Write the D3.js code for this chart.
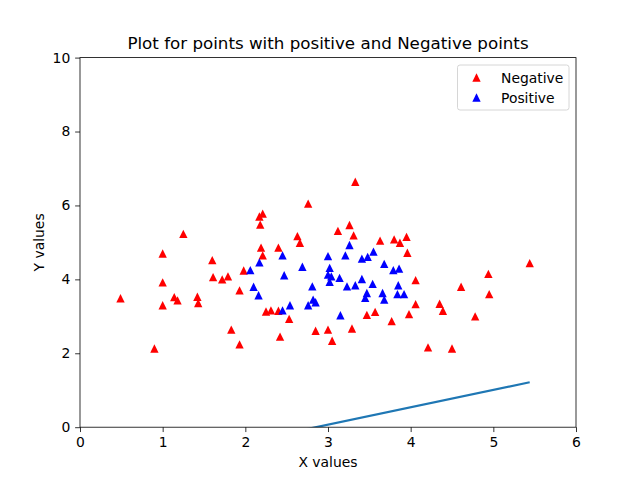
<!DOCTYPE html>
<html><head><meta charset="utf-8">
<script src="https://cdn.jsdelivr.net/npm/d3@7"></script>
<style>body{margin:0;background:#fff}svg{display:block}text{font-family:"DejaVu Sans",sans-serif}</style>
</head><body>
<svg id="c" width="640" height="480"></svg>
<script>
const negX=[0.49,0.90,1.00,1.00,1.00,1.14,1.18,1.25,1.42,1.43,1.60,1.61,1.72,1.79,1.83,1.93,1.93,1.98,
3.33,2.76,2.17,2.21,2.18,3.26,3.12,3.31,2.63,2.66,2.19,2.40,2.21,2.25,2.31,2.40,2.53,2.42,2.85,3.00,3.05,3.29,3.47,
3.63,3.80,3.87,3.95,3.96,4.06,4.06,3.98,3.77,3.57,4.35,4.39,4.61,4.94,4.95,4.78,4.21,4.50,5.44];
const negY=[3.49,2.13,4.70,3.92,3.30,3.52,3.43,5.23,3.53,3.36,4.52,4.06,4.00,4.08,2.64,3.70,2.24,4.24,
6.64,6.05,5.70,5.78,5.48,5.47,5.31,5.19,5.17,4.99,4.86,4.86,4.65,3.13,3.16,3.15,2.93,2.45,2.61,2.64,2.34,2.67,3.04,
5.05,5.08,4.99,5.15,4.72,3.98,3.33,3.06,2.87,3.12,3.34,3.15,3.80,4.15,3.60,3.00,2.16,2.13,4.44];
const posX=[2.06,2.17,2.45,2.47,2.69,2.10,2.16,2.54,2.45,2.81,2.76,2.82,2.85,3.00,3.26,3.21,3.02,3.00,3.04,3.02,
3.14,3.23,3.33,3.41,3.41,3.48,3.55,3.68,3.79,3.86,3.54,3.47,3.45,3.66,3.68,3.85,3.84,3.92,3.15];
const posY=[4.25,4.46,4.65,4.11,4.34,3.80,3.57,3.30,3.16,3.81,3.30,3.45,3.38,4.63,4.93,4.65,4.31,4.13,4.08,3.93,
4.04,3.81,3.84,4.01,4.56,4.61,4.75,4.42,4.25,4.29,3.88,3.63,3.50,3.63,3.45,3.84,3.60,3.60,3.03];
const lineX=[0.49,5.44];
const lineY=[-1.11,1.215];
const xTicks=[0,1,2,3,4,5,6];
const yTicks=[0,2,4,6,8,10];

const svg=d3.select("#c");
const L=80,R=576,T=57.6,B=427.2;
const x=d3.scaleLinear().domain([0,6]).range([L,R]);
const y=d3.scaleLinear().domain([0,10]).range([B,T]);

svg.append("defs").append("clipPath").attr("id","clip").append("rect")
 .attr("x",L).attr("y",T).attr("width",R-L).attr("height",B-T);

function triPath(s){return `M0,${-s}L${s},${s}L${-s},${s}Z`;}
const hs=4.17;

const g=svg.append("g").attr("clip-path","url(#clip)");
g.append("path").datum(lineX.map((v,i)=>[v,lineY[i]]))
 .attr("d",d3.line().x(d=>x(d[0])).y(d=>y(d[1])))
 .attr("fill","none").attr("stroke","#1f77b4").attr("stroke-width",2.2);

g.selectAll(".neg").data(negX.map((v,i)=>[v,negY[i]])).enter().append("path")
 .attr("d",triPath(hs)).attr("transform",d=>`translate(${x(d[0])},${y(d[1])})`).attr("fill","#ff0000");
g.selectAll(".pos").data(posX.map((v,i)=>[v,posY[i]])).enter().append("path")
 .attr("d",triPath(hs)).attr("transform",d=>`translate(${x(d[0])},${y(d[1])})`).attr("fill","#0000ff");

const xa=svg.append("g").attr("transform",`translate(0,${B})`)
 .call(d3.axisBottom(x).tickValues(xTicks).tickFormat(d3.format("d")).tickSize(4.86).tickPadding(4.9));
const ya=svg.append("g").attr("transform",`translate(${L},0)`)
 .call(d3.axisLeft(y).tickValues(yTicks).tickFormat(d3.format("d")).tickSize(4.86).tickPadding(4.9));
[xa,ya].forEach(a=>{a.select(".domain").remove();a.selectAll("line").attr("stroke","#000").attr("stroke-width",0.8);
 a.selectAll("text").attr("font-size","13.9px").attr("fill","#000").style("font-family","DejaVu Sans");});

svg.append("rect").attr("x",L).attr("y",T).attr("width",R-L).attr("height",B-T)
 .attr("fill","none").attr("stroke","#000").attr("stroke-width",0.8);

svg.append("text").attr("x",(L+R)/2).attr("y",49).attr("text-anchor","middle")
 .attr("font-size","16.7px").text("Plot for points with positive and Negative points");
svg.append("text").attr("x",(L+R)/2).attr("y",467).attr("text-anchor","middle")
 .attr("font-size","13.9px").text("X values");
svg.append("text").attr("transform",`translate(44,${(T+B)/2}) rotate(-90)`).attr("text-anchor","middle")
 .attr("font-size","13.9px").text("Y values");

const lg=svg.append("g");
lg.append("rect").attr("x",457.5).attr("y",65).attr("width",111.5).attr("height",45).attr("rx",2.5)
 .attr("fill","#fff").attr("fill-opacity",0.8).attr("stroke","#cccccc").attr("stroke-width",0.8);
const items=[["Negative","#ff0000"],["Positive","#0000ff"]];
items.forEach((it,i)=>{
 const cy=77.5+i*20;
 lg.append("path").attr("d",triPath(hs)).attr("transform",`translate(476.5,${cy})`).attr("fill",it[1]);
 lg.append("text").attr("x",501).attr("y",cy+5).attr("font-size","13.9px").text(it[0]);
});
</script>
</body></html>
